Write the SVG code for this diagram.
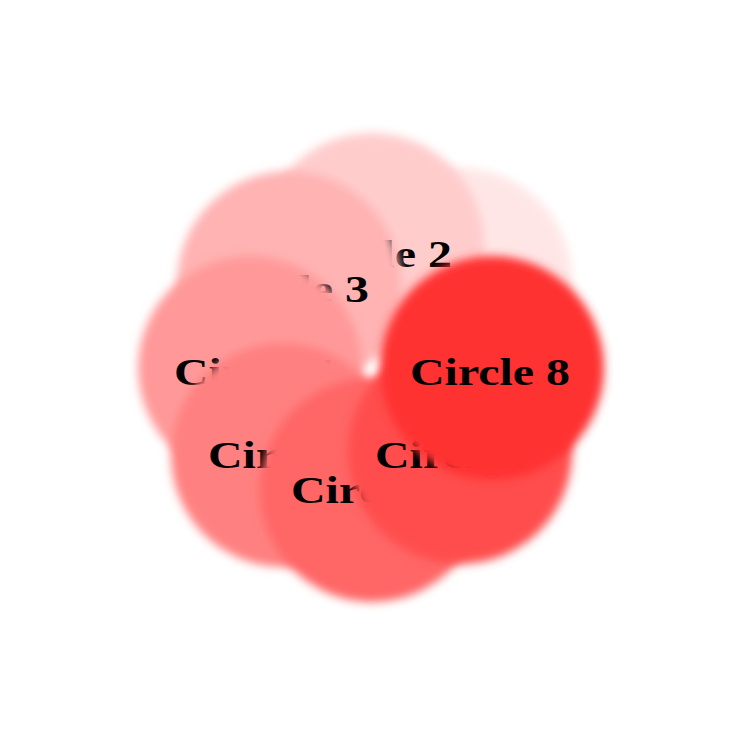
<svg xmlns="http://www.w3.org/2000/svg" width="744" height="744" viewBox="0 0 744 744">
<defs>
<filter id="b" x="-20%" y="-20%" width="140%" height="140%"><feGaussianBlur stdDeviation="5"/></filter>
</defs>
<style>
.c{filter:url(#b)}
.t{font-family:"Liberation Serif",serif;font-weight:bold;font-size:37px;fill:#000;text-anchor:middle}
</style>
<rect width="744" height="744" fill="#fff"/>
<g id="circle1"><circle class="c" cx="460" cy="280" r="112" fill="#ffe6e6"/><text class="t" x="455" y="302" textLength="160" lengthAdjust="spacingAndGlyphs">Circle 1</text></g>
<g id="circle2"><circle class="c" cx="372" cy="245" r="112" fill="#ffcccc"/><text class="t" x="372" y="267" textLength="160" lengthAdjust="spacingAndGlyphs">Circle 2</text></g>
<g id="circle3"><circle class="c" cx="289" cy="283" r="112" fill="#ffb3b3"/><text class="t" x="289" y="302" textLength="160" lengthAdjust="spacingAndGlyphs">Circle 3</text></g>
<g id="circle4"><circle class="c" cx="250" cy="368" r="112" fill="#ff9999"/><text class="t" x="254" y="385" textLength="160" lengthAdjust="spacingAndGlyphs">Circle 4</text></g>
<g id="circle5"><circle class="c" cx="283" cy="455" r="112" fill="#ff8080"/><text class="t" x="288" y="468" textLength="160" lengthAdjust="spacingAndGlyphs">Circle 5</text></g>
<g id="circle6"><circle class="c" cx="372" cy="490" r="112" fill="#ff6666"/><text class="t" x="371" y="503" textLength="160" lengthAdjust="spacingAndGlyphs">Circle 6</text></g>
<g id="circle7"><circle class="c" cx="460" cy="452" r="112" fill="#ff4d4d"/><text class="t" x="455" y="468" textLength="160" lengthAdjust="spacingAndGlyphs">Circle 7</text></g>
<g id="circle8"><circle class="c" cx="492" cy="368" r="112" fill="#ff3333"/><text class="t" x="490" y="385" textLength="160" lengthAdjust="spacingAndGlyphs">Circle 8</text></g>
<g id="connectors"/>
</svg>
